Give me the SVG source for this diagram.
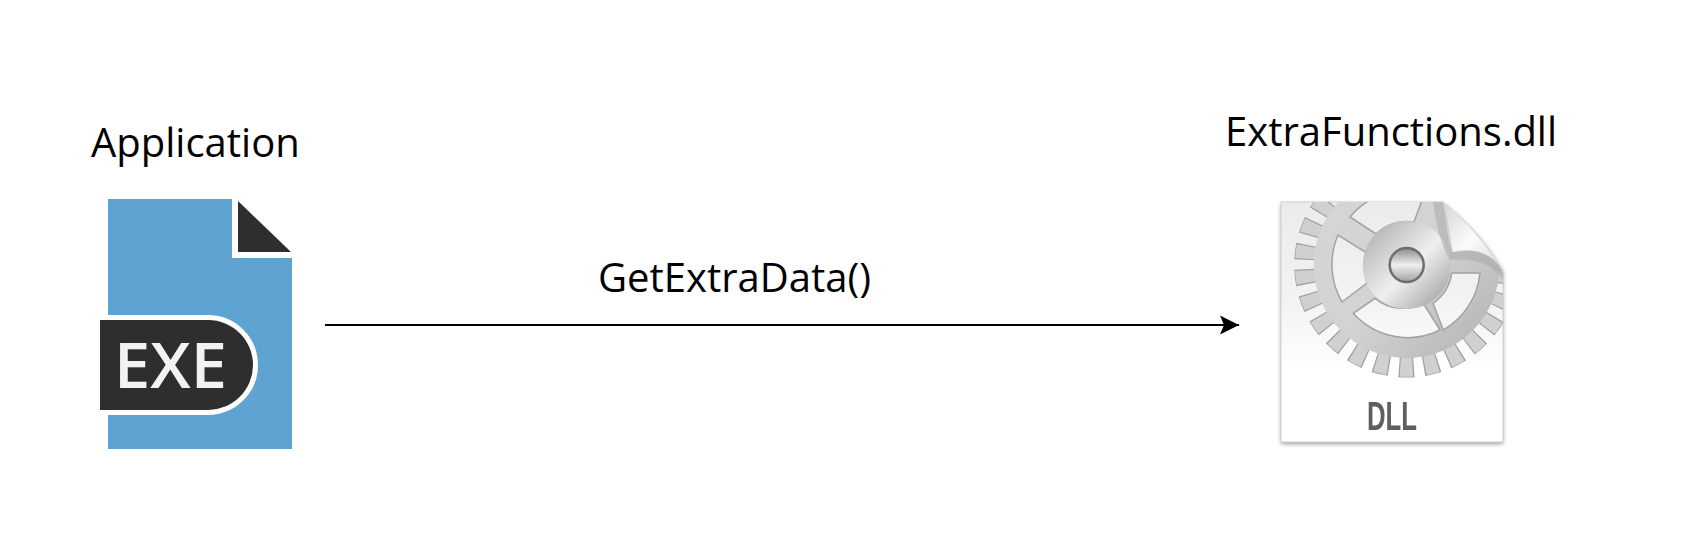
<svg xmlns="http://www.w3.org/2000/svg" width="1686" height="540" viewBox="0 0 1686 540">
  <style>
    .lbl { font-family: "Open Sans", "Liberation Sans", sans-serif; font-size: 40px; fill: #000; }
    .win { fill: url(#pageGrad); stroke: #a2a2a2; stroke-width: 1.5; }
    .wire { fill: none; stroke: #000; stroke-width: 2; }
  </style>
  <defs>
    <marker id="head" markerUnits="userSpaceOnUse" markerWidth="22" markerHeight="20" refX="19" refY="10" orient="auto">
      <path d="M0,0.5 L19,10 L0,19.5 L4,10 Z" fill="#000"/>
    </marker>
    <linearGradient id="pageGrad" gradientUnits="userSpaceOnUse" x1="0" y1="202" x2="0" y2="372">
      <stop offset="0" stop-color="#ebebeb"/>
      <stop offset="0.6" stop-color="#f3f3f3"/>
      <stop offset="1" stop-color="#ffffff"/>
    </linearGradient>
    <linearGradient id="metal" gradientUnits="userSpaceOnUse" x1="1300" y1="180" x2="1510" y2="380">
      <stop offset="0" stop-color="#d6d6d6"/>
      <stop offset="0.5" stop-color="#d2d2d2"/>
      <stop offset="1" stop-color="#aaaaaa"/>
    </linearGradient>
    <linearGradient id="hub" x1="0.1" y1="0.1" x2="0.9" y2="0.9">
      <stop offset="0" stop-color="#b4b4b4"/>
      <stop offset="0.55" stop-color="#f0f0f0"/>
      <stop offset="1" stop-color="#a8a8a8"/>
    </linearGradient>
    <linearGradient id="ball" x1="0.5" y1="0" x2="0.5" y2="1">
      <stop offset="0" stop-color="#8a8a8a"/>
      <stop offset="0.5" stop-color="#efefef"/>
      <stop offset="1" stop-color="#a0a0a0"/>
    </linearGradient>
    <linearGradient id="fold" x1="0" y1="0" x2="1" y2="1">
      <stop offset="0" stop-color="#d5d5d5"/>
      <stop offset="0.5" stop-color="#fbfbfb"/>
      <stop offset="1" stop-color="#dcdcdc"/>
    </linearGradient>
    <clipPath id="pageClip"><path d="M1281,202 H1443 Q1480,232 1503,272 V442 H1281 Z"/></clipPath>
    <filter id="soft" x="-5%" y="-5%" width="110%" height="110%"><feGaussianBlur stdDeviation="0.7"/></filter>
    <filter id="shadow" x="-5%" y="-5%" width="110%" height="110%"><feGaussianBlur stdDeviation="2"/></filter>
  </defs>

  <g id="application">
    <text class="lbl" x="91" y="157">Application</text>
    <g filter="url(#soft)">
      <path d="M108,199 H232 V258 H292 V449 H108 Z" fill="#5fa3d3"/>
      <path d="M238,201 L291,252 H238 Z" fill="#2d2d2d"/>
      <path d="M100,320 H208 A45,45 0 0 1 208,410 H100 Z" fill="#2d2d2d" stroke="#fff" stroke-width="10" paint-order="stroke"/>
      <text x="114" y="388" font-family="'Open Sans','Liberation Sans',sans-serif" font-size="63" font-weight="600" fill="#f2f2f2" textLength="113" lengthAdjust="spacingAndGlyphs">EXE</text>
    </g>
  </g>

  <g id="extrafunctions">
    <text class="lbl" x="1225" y="146">ExtraFunctions.dll</text>
    <path d="M1281,204 H1443 Q1480,232 1503,272 V444 H1281 Z" fill="#9a9a9a" filter="url(#shadow)"/>
    <path d="M1281,202 H1443 Q1480,232 1503,272 V442 H1281 Z" fill="url(#pageGrad)" stroke="#d2d2d2" stroke-width="1"/>
    <g clip-path="url(#pageClip)" filter="url(#soft)">
      <circle cx="1406.7" cy="265" r="102" fill="none" stroke="#a0a0a0" stroke-width="21" stroke-dasharray="15 9.65" stroke-dashoffset="19.85"/>
      <circle cx="1406.7" cy="265" r="102" fill="none" stroke="#d0d0d0" stroke-width="19.5" stroke-dasharray="12.5 12.15" stroke-dashoffset="18.6"/>
      <circle cx="1406.7" cy="265" r="93" fill="url(#metal)"/>
      <path class="win" d="M1338,235 A75,75 0 0 0 1342,302 L1367,283 A44,44 0 0 1 1367,253 Z"/>
      <path class="win" d="M1350,217 A75,75 0 0 1 1425,192 L1414,222 A44,44 0 0 0 1376,234 Z"/>
      <path class="win" d="M1353.3,313.3 L1375,298.3 A44,44 0 0 0 1423.3,303.3 L1440,330 A73,73 0 0 1 1353.3,313.3 Z"/>
      <path class="win" d="M1451.7,273 H1480 A74,74 0 0 1 1443.3,330 L1433,303.3 A44,44 0 0 0 1451.7,273 Z"/>
      <circle cx="1406.7" cy="265" r="44" fill="url(#hub)"/>
      <circle cx="1406.7" cy="265" r="17" fill="url(#ball)" stroke="#6e6e6e" stroke-width="2.5"/>
      <path d="M1443,202 C1447,225 1448,245 1453,252 C1470,250 1492,250 1503,272 L1503,280 C1490,260 1470,259 1450,260 C1442,248 1436,225 1433,202 Z" fill="#a5a5a5" opacity="0.5"/>
      <path d="M1443,202 C1449,218 1450,240 1453,252 C1470,248 1492,250 1503,272 Q1480,232 1443,202 Z" fill="url(#fold)"/>
      <text x="1367" y="430" font-family="'Liberation Sans',sans-serif" font-size="41" font-weight="700" fill="#5f5f5f" textLength="50" lengthAdjust="spacingAndGlyphs">DLL</text>
    </g>
  </g>

  <g id="connectors">
    <path class="wire" d="M325,325 H1239" marker-end="url(#head)"/>
    <text class="lbl" x="598" y="292">GetExtraData()</text>
  </g>
</svg>
